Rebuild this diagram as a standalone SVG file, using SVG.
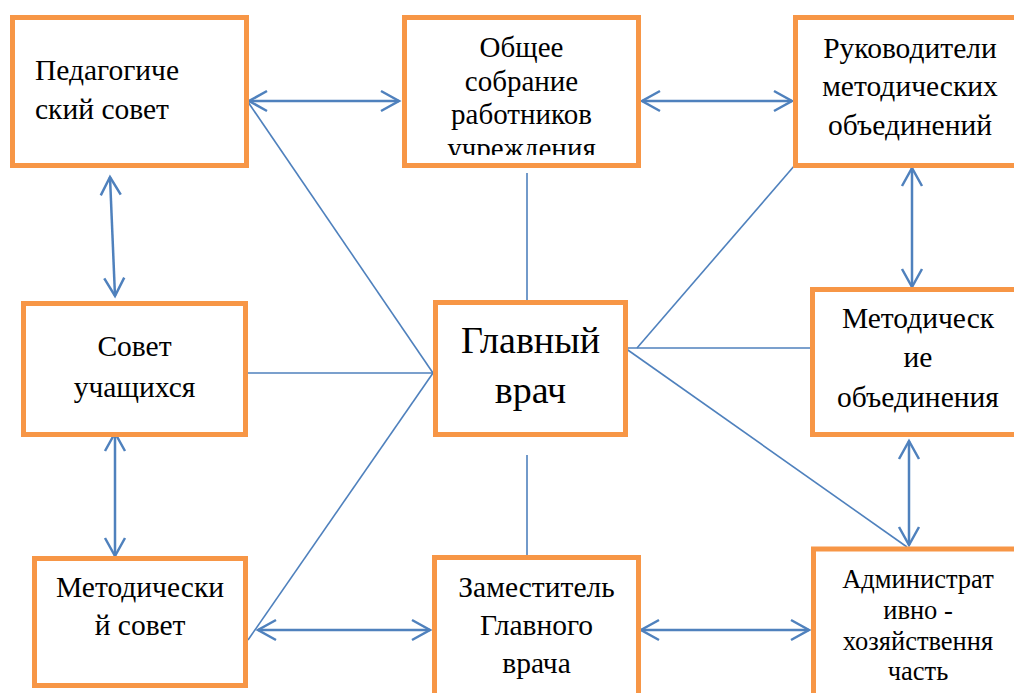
<svg xmlns="http://www.w3.org/2000/svg" width="1014" height="693" viewBox="0 0 1014 693">
<style>
.box{fill:#fff;stroke:#F79646;stroke-width:5}
.t{font-family:'Liberation Serif','Times New Roman',serif;font-size:29.5px;fill:#000}
.big{font-size:38px}
.m{font-size:29px}
.s{font-size:26.5px}
.c{text-anchor:middle}
.arr{fill:none;stroke:#4F81BD;stroke-width:2.5;marker-start:url(#ah);marker-end:url(#ah)}
.ln{fill:none;stroke:#4F81BD;stroke-width:1.6}
</style>
<defs>
<marker id="ah" markerUnits="userSpaceOnUse" markerWidth="30" markerHeight="30" viewBox="-25 -15 30 30" refX="0" refY="0" orient="auto-start-reverse" overflow="visible">
<path d="M-18,-10 L0,0 L-18,10" fill="none" stroke="#4F81BD" stroke-width="2.5" stroke-linejoin="miter"/>
</marker>
<clipPath id="clip2"><rect x="402" y="15" width="240" height="140"/></clipPath>
</defs>
<rect width="1014" height="693" fill="#fff"/>

<g id="connectors">
<line class="arr" x1="249" y1="101" x2="399" y2="101"/>
<line class="arr" x1="642" y1="101" x2="792" y2="101"/>
<line class="arr" x1="110" y1="177" x2="115" y2="296"/>
<line class="arr" x1="115" y1="433" x2="115" y2="556"/>
<line class="arr" x1="258" y1="630" x2="430" y2="630"/>
<line class="arr" x1="641" y1="630" x2="809" y2="630"/>
<line class="arr" x1="912" y1="168" x2="912" y2="287"/>
<line class="arr" x1="909" y1="441" x2="909" y2="545"/>
<line class="ln" x1="248" y1="102" x2="433" y2="373"/>
<line class="ln" x1="247" y1="373" x2="433" y2="373"/>
<line class="ln" x1="433" y1="373" x2="248" y2="640"/>
<line class="ln" x1="527" y1="173" x2="527" y2="300"/>
<line class="ln" x1="527" y1="455" x2="527" y2="555"/>
<line class="ln" x1="625" y1="348" x2="812" y2="348"/>
<line class="ln" x1="637" y1="348" x2="795" y2="165"/>
<line class="ln" x1="625" y1="348" x2="907" y2="547"/>
</g>

<g id="node-ped">
<rect class="box" x="12.5" y="17.5" width="234" height="148"/>
<text class="t" x="35" y="80">Педагогиче</text>
<text class="t" x="35" y="119">ский совет</text>
</g>

<g id="node-obshee">
<rect class="box" x="404.5" y="17.5" width="234" height="148"/>
<g clip-path="url(#clip2)">
<text class="t c m" x="521.5" y="57">Общее</text>
<text class="t c m" x="521.5" y="91">собрание</text>
<text class="t c m" x="521.5" y="124">работников</text>
<text class="t c m" x="521.5" y="158">учреждения</text>
</g>
</g>

<g id="node-ruk">
<rect class="box" x="795.5" y="17.5" width="240" height="148"/>
<text class="t c" x="910" y="58">Руководители</text>
<text class="t c" x="910" y="96">методических</text>
<text class="t c" x="910" y="135">объединений</text>
</g>

<g id="node-sovet">
<rect class="box" x="23.5" y="303.5" width="222" height="131"/>
<text class="t c" x="134.5" y="356">Совет</text>
<text class="t c" x="134.5" y="397">учащихся</text>
</g>

<g id="node-glav">
<rect class="box" x="435.5" y="302.5" width="190" height="132"/>
<text class="t c big" x="530.5" y="353">Главный</text>
<text class="t c big" x="530.5" y="403">врач</text>
</g>

<g id="node-metob">
<rect class="box" x="812.5" y="289.5" width="220" height="145"/>
<text class="t c" x="918" y="328">Методическ</text>
<text class="t c" x="918" y="367">ие</text>
<text class="t c" x="918" y="407">объединения</text>
</g>

<g id="node-metsov">
<rect class="box" x="34.5" y="558.5" width="211" height="127"/>
<text class="t c" x="140" y="597">Методически</text>
<text class="t c" x="140" y="635">й совет</text>
</g>

<g id="node-zam">
<rect class="box" x="434.5" y="557.5" width="204" height="150"/>
<text class="t c" x="536.5" y="597">Заместитель</text>
<text class="t c" x="536.5" y="635">Главного</text>
<text class="t c" x="536.5" y="673">врача</text>
</g>

<g id="node-adm">
<rect class="box" x="813.5" y="549" width="220" height="160"/>
<text class="t c s" x="918" y="588">Администрат</text>
<text class="t c s" x="918" y="619">ивно -</text>
<text class="t c s" x="918" y="650">&#x445;&#x43E;&#x437;&#x44F;&#x439;&#x441;&#x442;&#x432;&#x435;&#x43D;&#x43D;&#x44F;</text>
<text class="t c s" x="918" y="680">часть</text>
</g>
</svg>
